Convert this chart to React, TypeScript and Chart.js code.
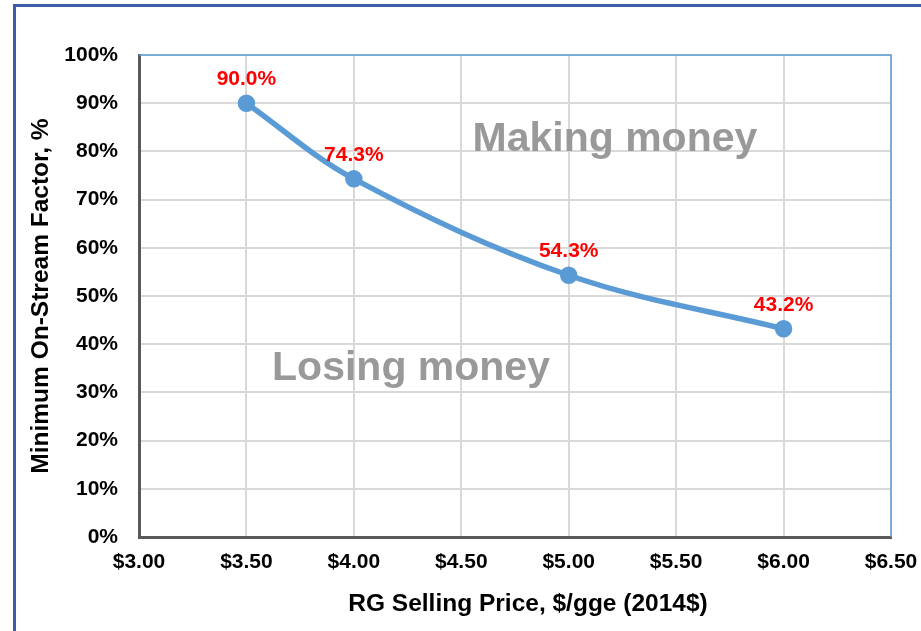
import React, { useEffect, useRef } from "react";
import { Chart, registerables } from "chart.js";

Chart.register(...registerables);

const prices = [3.5, 4.0, 5.0, 6.0];
const onStreamFactor = [90.0, 74.3, 54.3, 43.2];
const pointLabels = ["90.0%", "74.3%", "54.3%", "43.2%"];
const annotationTexts = ["Making money", "Losing money"];
const annotationX = [5.215, 4.266];
const annotationY = [80.0, 32.6];

const xTitle = "RG Selling Price, $/gge (2014$)";
const yTitle = "Minimum On-Stream Factor, %";

const FONT = "Arial, 'Liberation Sans', sans-serif";

const overlayPlugin = {
  id: "overlay",
  beforeDraw(chart: any) {
    const ctx = chart.ctx;
    ctx.save();
    ctx.fillStyle = "#ffffff";
    ctx.fillRect(0, 0, chart.width, chart.height);
    ctx.strokeStyle = "#3b5ea6";
    ctx.lineWidth = 3;
    ctx.beginPath();
    ctx.moveTo(14.5, chart.height);
    ctx.lineTo(14.5, 5.5);
    ctx.lineTo(chart.width, 5.5);
    ctx.stroke();
    ctx.restore();
  },
  afterDatasetsDraw(chart: any) {
    const ctx = chart.ctx;
    const xs = chart.scales.x;
    const ys = chart.scales.y;
    const area = chart.chartArea;
    ctx.save();
    ctx.strokeStyle = "#5b9bd5";
    ctx.lineWidth = 1.5;
    ctx.beginPath();
    ctx.moveTo(area.left, area.top);
    ctx.lineTo(area.right, area.top);
    ctx.lineTo(area.right, area.bottom);
    ctx.stroke();

    ctx.fillStyle = "#999999";
    ctx.font = `bold 41px ${FONT}`;
    ctx.textAlign = "center";
    ctx.textBaseline = "alphabetic";
    annotationTexts.forEach((t, i) => {
      ctx.fillText(t, xs.getPixelForValue(annotationX[i]), ys.getPixelForValue(annotationY[i]));
    });

    const meta = chart.getDatasetMeta(0);
    ctx.fillStyle = "#ff0000";
    ctx.font = `bold 21px ${FONT}`;
    meta.data.forEach((pt: any, i: number) => {
      ctx.fillText(pointLabels[i], pt.x, pt.y - 18);
    });

    // x axis title
    ctx.fillStyle = "#000000";
    ctx.font = `bold 24.5px ${FONT}`;
    ctx.textBaseline = "middle";
    ctx.fillText(xTitle, (area.left + area.right) / 2 + 13, 604);
    ctx.restore();
  },
};

export default function App() {
  const ref = useRef<HTMLCanvasElement>(null);

  useEffect(() => {
    if (!ref.current) return;
    const chart = new Chart(ref.current, {
      type: "line",
      data: {
        datasets: [
          {
            data: prices.map((p, i) => ({ x: p, y: onStreamFactor[i] })),
            borderColor: "#5b9bd5",
            backgroundColor: "#5b9bd5",
            borderWidth: 5.5,
            pointRadius: 6,
            pointBackgroundColor: "#5b9bd5",
            pointBorderColor: "#5b9bd5",
            tension: 0.35,
            fill: false,
          },
        ],
      },
      options: {
        responsive: false,
        animation: false,
        layout: { padding: { left: 0, top: 55, right: 30, bottom: 0 } },
        plugins: {
          legend: { display: false },
          tooltip: { enabled: false },
        },
        scales: {
          x: {
            type: "linear",
            min: 3,
            max: 6.5,
            ticks: {
              stepSize: 0.5,
              padding: 13,
              color: "#000000",
              font: { family: FONT, size: 21, weight: "bold" },
              callback: (v: any) => "$" + Number(v).toFixed(2),
            },
            grid: { color: "#d9d9d9", lineWidth: 2, drawTicks: false },
            border: { display: true, color: "#595959", width: 3 },
            title: { display: false },
            afterFit: (scale: any) => {
              scale.height = 94;
              scale.paddingLeft = 0;
              scale.paddingRight = 0;
            },
          },
          y: {
            min: 0,
            max: 100,
            ticks: {
              stepSize: 10,
              padding: 21,
              color: "#000000",
              font: { family: FONT, size: 21, weight: "bold" },
              callback: (v: any) => v + "%",
            },
            grid: { color: "#d9d9d9", lineWidth: 2, drawTicks: false },
            border: { display: true, color: "#595959", width: 3 },
            title: {
              display: true,
              text: yTitle,
              color: "#000000",
              font: { family: FONT, size: 24.5, weight: "bold" },
              padding: { top: 27, bottom: 0 },
            },
            afterFit: (scale: any) => {
              scale.width = 139;
              scale.paddingTop = 0;
              scale.paddingBottom = 0;
            },
          },
        },
      },
      plugins: [overlayPlugin],
    } as any);
    return () => chart.destroy();
  }, []);

  return (
    <div style={{ position: "fixed", left: 0, top: 0, width: 921, height: 631, background: "#fff" }}>
      <canvas ref={ref} width={921} height={631} style={{ display: "block" }} />
    </div>
  );
}
